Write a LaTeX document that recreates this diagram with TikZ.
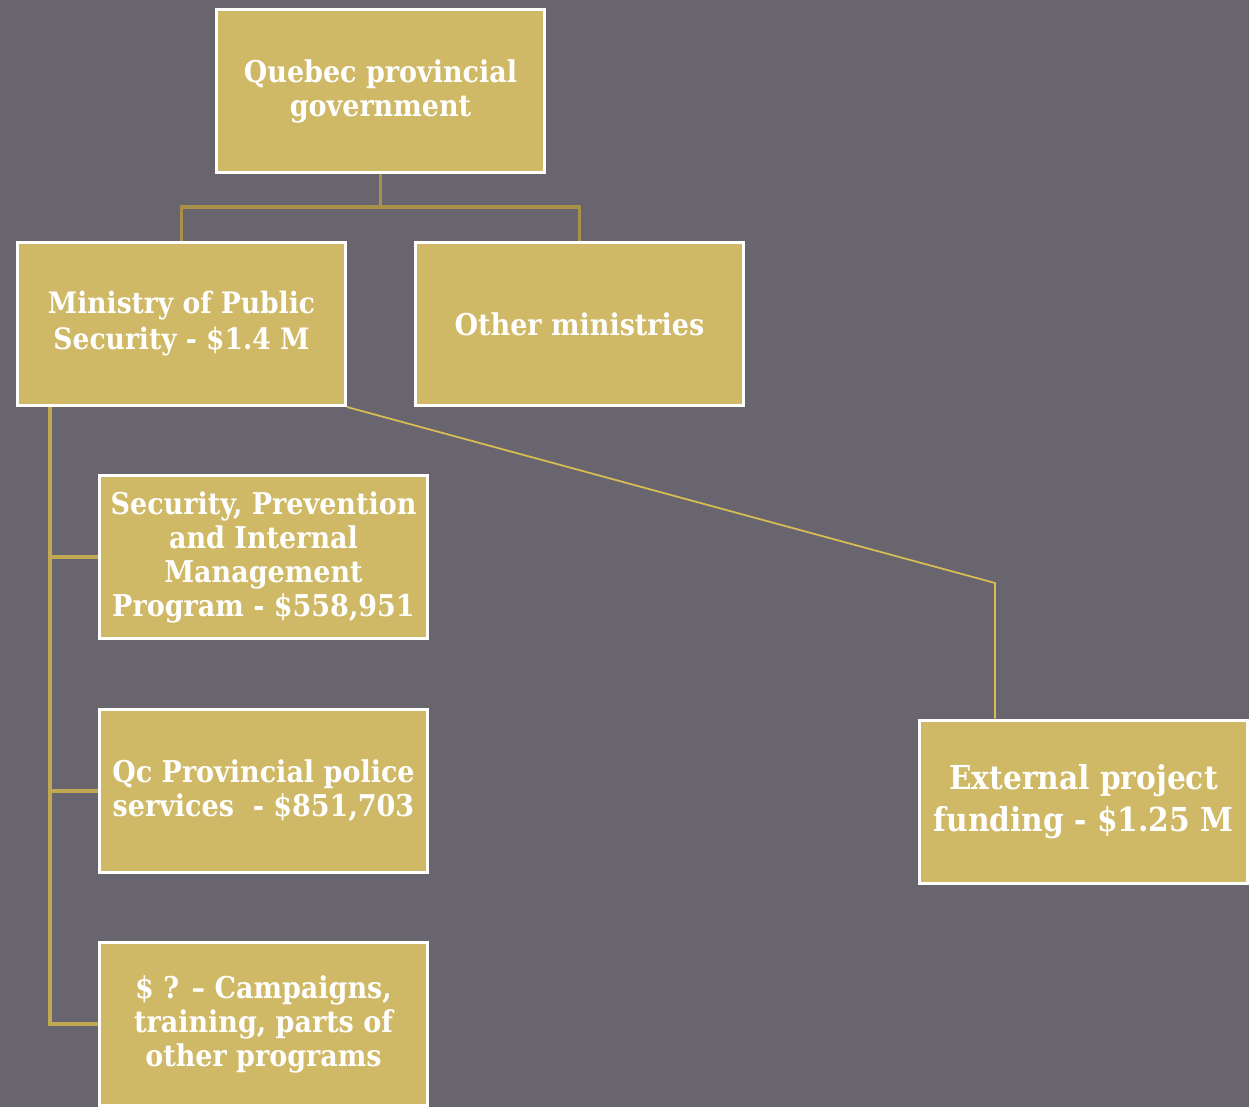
\documentclass[tikz,border=0pt]{standalone}
\usepackage{fontspec}
\setmainfont{DejaVu Serif Condensed}
\definecolor{bgc}{HTML}{68656E}
\definecolor{boxc}{HTML}{CFB966}
\definecolor{linec}{HTML}{A89048}
\definecolor{linec2}{HTML}{C2A852}
\definecolor{linec3}{HTML}{D6BC52}
\tikzset{
  box/.style={draw=white, line width=3pt, fill=boxc, minimum width=328pt, minimum height=163pt,
    inner sep=0pt, align=center, text=white, font=\bfseries\fontsize{30}{34}\selectfont},
  conn/.style={draw=linec, line width=3.5pt},
  conn2/.style={draw=linec2, line width=3.5pt},
  conn3/.style={draw=linec3, line width=1.8pt},
}
\begin{document}
\begin{tikzpicture}[x=1pt,y=-1pt]
\fill[bgc] (0,0) rectangle (1249,1107);
\useasboundingbox (0,0) rectangle (1249,1107);
\node[box] (gov) at (380.5,91) {Quebec provincial\\government};
\node[box, font=\bfseries\fontsize{29.5}{36}\selectfont] (msp) at (181.5,324) {Ministry of Public\\Security - \$1.4 M};
\node[box] (other) at (579.5,324) {Other ministries};
\node[box] (spim) at (263.5,557) {Security, Prevention\\and Internal\\Management\\Program - \$558,951};
\node[box] (qc) at (263.5,791) {Qc Provincial police\\services~~- \$851,703};
\node[box] (camp) at (263.5,1024) {\$ ? – Campaigns,\\training, parts of\\other programs};
\node[box, font=\bfseries\fontsize{33}{42}\selectfont] (ext) at (1083.5,801.5) {External project\\funding - \$1.25 M};
\coordinate (split) at (380.5,207);
\draw[conn] (gov.south) -- (split);
\draw[conn] (split) -| (msp.north);
\draw[conn] (split) -| (other.north);
\coordinate (trunk) at (50,407);
\draw[conn2] (trunk) |- (spim.west);
\draw[conn2] (trunk) |- (qc.west);
\draw[conn2] (trunk) |- (camp.west);
\coordinate (bend) at (995,583);
\draw[conn3] (msp.south east) -- (bend) -- (bend |- ext.north);
\end{tikzpicture}
\end{document}
